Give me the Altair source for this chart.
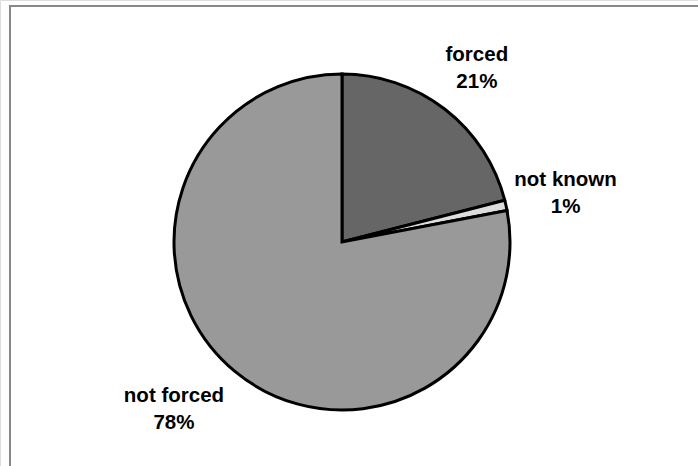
import altair as alt
import pandas as pd

categories = ["forced", "not known", "not forced"]
shares = [21, 1, 78]
pct_labels = ["21%", "1%", "78%"]
colors = ["#666666", "#dddddd", "#999999"]

df = pd.DataFrame({
    "cat": categories,
    "share": shares,
    "order": list(range(len(categories))),
    "label": [f"{c}\n{p}" for c, p in zip(categories, pct_labels)],
})

cx, cy = 342, 242

base = alt.Chart(df).encode(
    theta=alt.Theta("share:Q", stack=True),
    order=alt.Order("order:Q"),
)

pie = base.mark_arc(stroke="black", strokeWidth=3, outerRadius=168).encode(
    x=alt.value(cx),
    y=alt.value(cy),
    color=alt.Color("cat:N", scale=alt.Scale(domain=categories, range=colors), legend=None),
)

text_style = dict(
    font="Liberation Sans", fontSize=20.5, fontWeight="bold",
    lineBreak="\n", lineHeight=27, align="center", baseline="middle", color="black",
)

# per-label placement tweaks (style only): (radius, dx, dy)
label_place = {
    "forced": (220, 0, -13),
    "not known": (226, 3, -13),
    "not forced": (226, -24, -20),
}

text_layers = []
for cat, (r, ddx, ddy) in label_place.items():
    text_layers.append(
        base.mark_text(radius=r, dx=ddx, dy=ddy, **text_style).encode(
            x=alt.value(cx),
            y=alt.value(cy),
            text="label:N",
            opacity=alt.condition(alt.datum.cat == cat, alt.value(1), alt.value(0)),
        )
    )

frame_top = alt.Chart(df).mark_rule(color="#888888", strokeWidth=2).encode(
    x=alt.value(9), x2=alt.value(698), y=alt.value(6)
)
frame_left = alt.Chart(df).mark_rule(color="#888888", strokeWidth=2).encode(
    x=alt.value(10), y=alt.value(5), y2=alt.value(466)
)

chart = alt.layer(frame_top, frame_left, pie, *text_layers).properties(
    width=698, height=466, padding=0,
    autosize=alt.AutoSizeParams(type="none"),
).configure_view(stroke=None).configure(background="white")

chart.save("out.html", embed_options={"renderer": "svg", "actions": False})
